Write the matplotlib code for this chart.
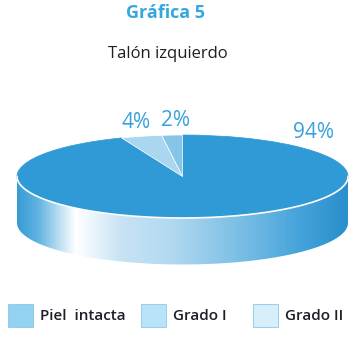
import matplotlib
matplotlib.use("Agg")
import matplotlib.pyplot as plt
import numpy as np
from matplotlib.colors import LinearSegmentedColormap
from matplotlib.patches import Polygon, Rectangle

plt.rcParams['font.family'] = ['Open Sans', 'DejaVu Sans']

title = 'Gráfica 5'
subtitle = 'Talón izquierdo'
categories = ['Piel  intacta', 'Grado I', 'Grado II']
values = [94, 4, 2]
pct_labels = ['94%', '4%', '2%']
pie_colors = ['#2f9ad5', '#abd6ef', '#86c4e8']
legend_colors = ['#93d3f2', '#b9e3f8', '#d6effb']

W, H = 363, 339
fig = plt.figure(figsize=(W / 100, H / 100), dpi=100)

# background axes in pixel coordinates for texts and legend
bg = fig.add_axes([0, 0, 1, 1])
bg.set_xlim(0, W)
bg.set_ylim(H, 0)
bg.axis('off')

# pie axes: x in units of the ellipse half-width, y in units of its half-height
left_px, right_px = 17, 348
top_px, bottom_px = 135, 266
cy_px = 176.5
b_px = cy_px - top_px
depth = 1.12
ax = fig.add_axes([left_px / W, 1 - bottom_px / H,
                   (right_px - left_px) / W, (bottom_px - top_px) / H])
ylo = -(bottom_px - cy_px) / b_px

# side band with a horizontal gradient
t = np.linspace(np.pi, 2 * np.pi, 200)
xs = np.cos(t)
ys = np.sin(t)
band = np.concatenate([np.column_stack([xs, ys]),
                       np.column_stack([xs[::-1], ys[::-1] - depth])])
side = Polygon(band, closed=True, facecolor='none', edgecolor='none')
ax.add_patch(side)
grad = LinearSegmentedColormap.from_list('side', [
    (0.0, '#3a9cd5'), (0.06, '#5fb2e1'), (0.13, '#c2e1f3'),
    (0.175, '#ffffff'), (0.25, '#e2f1fa'), (0.31, '#c8e3f4'),
    (0.46, '#b3daf0'), (0.70, '#74bbe4'), (0.85, '#46a4db'),
    (1.0, '#2a8fcc')])
img = ax.imshow(np.linspace(0, 1, 400).reshape(1, -1), cmap=grad,
                extent=(-1, 1, -1 - depth - 0.05, 0.05), aspect='auto',
                zorder=1)
img.set_clip_path(side)

# top of the pie
wedges, _ = ax.pie(values, colors=pie_colors, startangle=90, counterclock=False,
                   radius=1, center=(0, 0),
                   wedgeprops=dict(edgecolor='white', linewidth=0.5))
for w in wedges:
    w.set_zorder(3)
wedges[0].set_edgecolor(pie_colors[0])
# light rim line between top and side
ax.plot(xs, ys, color='white', lw=1.2, zorder=4)

ax.set_aspect('auto')
ax.set_xlim(-1, 1)
ax.set_ylim(ylo, 1)
ax.axis('off')

# titles
bg.text(165, 13, title, color='#36a6df', fontsize=13, fontweight='bold',
        ha='center', va='center')
bg.text(168, 54, subtitle, color='#1e1e24', fontsize=12, ha='center', va='center')

# percentage labels
label_pos = [(313, 133), (136, 122), (176, 121)]
for txt, (x, y) in zip(pct_labels, label_pos):
    bg.text(x, y, txt, color='#36a2dc', fontsize=15, ha='center', va='center')

# legend
leg_x = [8, 141, 253]
for name, col, x in zip(categories, legend_colors, leg_x):
    bg.add_patch(Rectangle((x, 304), 25, 23, facecolor=col, edgecolor='#8cc8e6', lw=0.6))
    bg.text(x + 32, 315.5, name, color='#1e1e28', fontsize=11, fontweight='semibold',
            ha='left', va='center')

fig.savefig('out.png', dpi=100)
